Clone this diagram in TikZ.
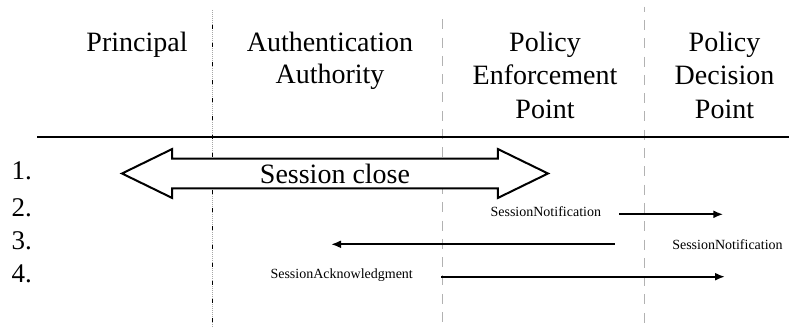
\documentclass[tikz,border=0pt]{standalone}
\usepackage{fontspec}
\setmainfont{Liberation Serif}
\usetikzlibrary{arrows.meta,shapes.arrows}

\begin{document}
\begin{tikzpicture}[x=1pt,y=-1pt,
  head/.style={font=\fontsize{28}{33.3}\selectfont, align=center, anchor=base, inner sep=0pt},
  stepnum/.style={font=\fontsize{27}{32}\selectfont, anchor=base west, inner sep=0pt},
  msg/.style={font=\fontsize{14}{16}\selectfont, anchor=base, inner sep=0pt},
  lifeline/.style={draw=black!30, line width=0.9pt, dash pattern=on 10pt off 8.3pt},
  call/.style={line width=2pt, -{Latex[length=10pt,width=8pt]}},
]
\useasboundingbox (0,0) rectangle (789,328);

% column headings (anchored at the baseline of their last line)
\node[head] (pr)  at (137,51.7)   {Principal};
\node[head, font=\fontsize{28}{31.6}\selectfont] (aa) at (330,83.3) {Authentication\\Authority};
\node[head] (pep) at (545,118.3)  {Policy\\Enforcement\\Point};
\node[head] (pdp) at (724.5,118.3) {Policy\\Decision\\Point};

% separators between the columns
\coordinate (s1-top) at (212.3,10);
\coordinate (s1-bot) at (212.3,328);
\coordinate (s1-dash) at (212.3,25);
\coordinate (s2-top) at (442.3,19.3);
\coordinate (s2-bot) at (442.3,328);
\coordinate (s3-top) at (644.3,6.7);
\coordinate (s3-bot) at (644.3,328);
\draw[black!35, line width=0.8pt, dash pattern=on 1pt off 1pt] (s1-top) -- (s1-bot);
\draw[black, line width=1.6pt, dash pattern=on 4pt off 14.3pt] (s1-dash) -- (s1-bot);
\draw[lifeline] (s2-top) -- (s2-bot);
\draw[lifeline, dash phase=5pt] (s3-top) -- (s3-bot);

% rule under the headings
\coordinate (rule-l) at (37,136.7);
\coordinate (rule-r) at (789,136.7);
\draw[line width=2.2pt] (rule-l) -- (rule-r);

% step numbers
\node[stepnum] (n1) at (11.5,180)   {1.};
\node[stepnum] (n2) at (11.5,216.5) {2.};
\node[stepnum] (n3) at (11.5,250)   {3.};
\node[stepnum] (n4) at (11.5,283)   {4.};

% step 1
\node[double arrow, draw, fill=white, line width=2pt, inner sep=0pt,
      minimum height=426pt, minimum width=49pt,
      double arrow head extend=7pt, double arrow tip angle=52,
      font=\fontsize{28}{33}\selectfont] (close) at (335,173.5) {Session close};

% step 2
\node[msg] (m2) at (545.8,216.7) {SessionNotification};
\coordinate (a2s) at (619.3,214.3);
\coordinate (a2e) at (723.3,214.3);
\draw[call] (a2s) -- (a2e);

% step 3
\node[msg] (m3) at (727.5,250) {SessionNotification};
\coordinate (a3s) at (614.5,244.3);
\coordinate (a3e) at (331,244.3);
\draw[call] (a3s) -- (a3e);

% step 4
\node[msg] (m4) at (341.7,278.3) {SessionAcknowledgment};
\coordinate (a4s) at (441,276.7);
\coordinate (a4e) at (725,276.7);
\draw[call] (a4s) -- (a4e);
\end{tikzpicture}
\end{document}
